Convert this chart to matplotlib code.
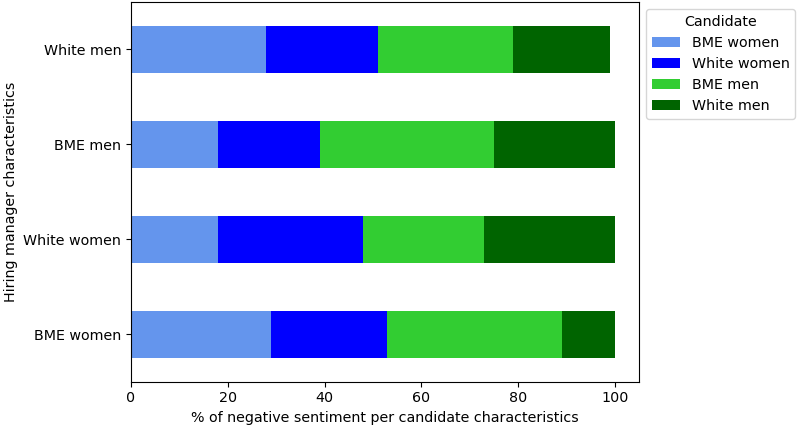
import matplotlib
matplotlib.use("Agg")
import matplotlib.pyplot as plt
import numpy as np

managers = ["BME women", "White women", "BME men", "White men"]
candidates = ["BME women", "White women", "BME men", "White men"]
bme_women = [29, 18, 18, 28]
white_women = [24, 30, 21, 23]
bme_men = [36, 25, 36, 28]
white_men = [11, 27, 25, 20]
series = [bme_women, white_women, bme_men, white_men]
colors = ["cornflowerblue", "blue", "limegreen", "darkgreen"]

plt.rcParams["font.size"] = 10.25

fig = plt.figure(figsize=(7.97, 4.28), dpi=100)
ax = fig.add_axes([131 / 797, 0.108, 508 / 797, 0.8873])

y = np.arange(len(managers))
left = np.zeros(len(managers))
for name, vals, c in zip(candidates, series, colors):
    ax.barh(y, vals, height=0.5, left=left, color=c, label=name)
    left += np.array(vals)

ax.set_yticks(y)
ax.set_yticklabels(managers)
ax.set_ylim(-0.5, 3.5)
ax.set_xlim(0, 105)
ax.set_xlabel("% of negative sentiment per candidate characteristics")
ax.set_ylabel("Hiring manager characteristics")
ax.legend(title="Candidate", loc="upper left", bbox_to_anchor=(1.0, 1))

fig.savefig("out.png", dpi=100)
